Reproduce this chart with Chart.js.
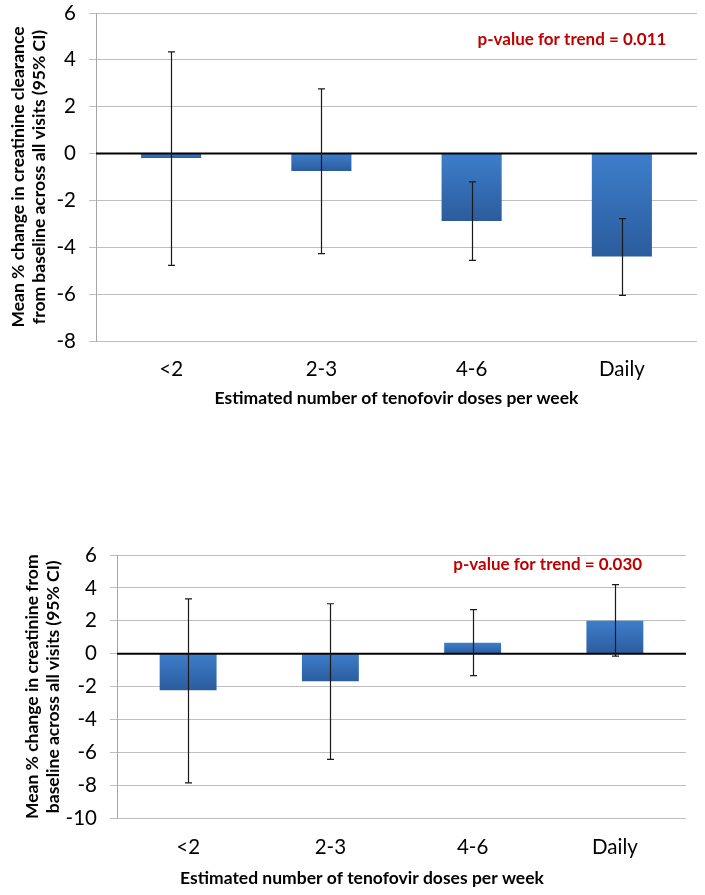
<!DOCTYPE html>
<html><head><meta charset="utf-8">
<script src="https://cdn.jsdelivr.net/npm/chart.js@4/dist/chart.umd.min.js"></script>
<style>
html,body{margin:0;padding:0;background:#fff;}
#wrap{position:relative;width:705px;height:895px;overflow:hidden;}
#c1box{position:absolute;left:0;top:0;width:705px;height:420px;}
#c2box{position:absolute;left:0;top:500px;width:705px;height:395px;}
</style></head><body>
<div id="wrap"><div id="c1box"><canvas id="c1"></canvas></div><div id="c2box"><canvas id="c2"></canvas></div></div>
<script>
// ---- data ----
const categories = ['<2', '2-3', '4-6', 'Daily'];
const clearanceMean  = [-0.19, -0.74, -2.88, -4.39];
const clearanceLower = [-4.77, -4.27, -4.56, -6.05];
const clearanceUpper = [4.34, 2.76, -1.21, -2.78];
const creatinineMean  = [-2.22, -1.66, 0.67, 2.01];
const creatinineLower = [-7.84, -6.41, -1.32, -0.14];
const creatinineUpper = [3.33, 3.04, 2.68, 4.20];
const yTicksTop = [6, 4, 2, 0, -2, -4, -6, -8];
const yTicksBottom = [6, 4, 2, 0, -2, -4, -6, -8, -10];
const xTitle = 'Estimated number of tenofovir doses per week';
const yTitleTop = ['Mean % change in creatinine clearance', 'from baseline across all visits (95% CI)'];
const yTitleBottom = ['Mean % change in creatinine from', 'baseline across all visits (95% CI)'];
const pTextTop = 'p-value for trend = 0.011';
const pTextBottom = 'p-value for trend = 0.030';

const FONT = 'Lato, "Open Sans", sans-serif';
Chart.defaults.font.family = FONT;
Chart.defaults.color = '#000';
Chart.defaults.animation = false;

const GRID = '#BFBFBF';
const AXIS = '#A6A6A6';
const TICK_SIZE = 20.5;
const TITLE_SIZE = 17.5;

function barFill(c) {
  const chart = c.chart;
  const ys = chart.scales.y;
  if (!ys || !chart.chartArea) return '#3671B8';
  const v = c.raw;
  const p0 = ys.getPixelForValue(0), p1 = ys.getPixelForValue(v);
  const t = Math.min(p0, p1), b = Math.max(p0, p1);
  if (!isFinite(t) || b - t < 1) return '#3671B8';
  const g = chart.ctx.createLinearGradient(0, t, 0, b);
  g.addColorStop(0, '#3E7ECB');
  g.addColorStop(1, '#2B5C9D');
  return g;
}

const overlay = {
  id: 'overlay',
  afterDatasetsDraw(chart, args, o) {
    const ctx = chart.ctx, ys = chart.scales.y, area = chart.chartArea;
    ctx.save();
    // zero line
    const z = ys.getPixelForValue(0);
    ctx.strokeStyle = '#000'; ctx.lineWidth = 2;
    ctx.beginPath(); ctx.moveTo(area.left, z); ctx.lineTo(area.right, z); ctx.stroke();
    // error bars
    const meta = chart.getDatasetMeta(0);
    ctx.strokeStyle = '#1a1a1a'; ctx.lineWidth = 1.2;
    meta.data.forEach((el, i) => {
      const x = Math.round(el.x) + 0.5;
      const yl = ys.getPixelForValue(o.lower[i]), yu = ys.getPixelForValue(o.upper[i]);
      ctx.beginPath();
      ctx.moveTo(x, yu); ctx.lineTo(x, yl);
      ctx.moveTo(x - 3.5, yu); ctx.lineTo(x + 3.5, yu);
      ctx.moveTo(x - 3.5, yl); ctx.lineTo(x + 3.5, yl);
      ctx.stroke();
    });
    // p-value annotation
    ctx.fillStyle = '#C00000';
    ctx.font = 'bold ' + o.pSize + 'px ' + FONT;
    ctx.textAlign = 'center'; ctx.textBaseline = 'middle';
    ctx.fillText(o.pText, area.left + o.pX * (area.right - area.left), ys.getPixelForValue(o.pY));
    // optional free-positioned x title
    if (o.xTitleFree) {
      ctx.fillStyle = '#000';
      ctx.font = 'bold ' + o.xTitleSize + 'px ' + FONT;
      ctx.fillText(o.xTitleFree, o.xTitleX, o.xTitleY);
    }
    ctx.restore();
  }
};

function build(id, mean, lower, upper, ticks, yTitle, cfg) {
  return new Chart(document.getElementById(id), {
    type: 'bar',
    data: { labels: categories, datasets: [{ data: mean, backgroundColor: barFill, borderWidth: 0, barPercentage: 0.4, categoryPercentage: 1.0 }] },
    options: {
      responsive: true, maintainAspectRatio: false,
      layout: { padding: cfg.padding },
      plugins: {
        legend: { display: false }, tooltip: { enabled: false },
        overlay: { lower, upper, pText: cfg.pText, pX: cfg.pX, pY: cfg.pY, pSize: 17,
          xTitleFree: cfg.freeTitle ? xTitle : null, xTitleSize: TITLE_SIZE, xTitleX: cfg.freeX, xTitleY: cfg.freeY }
      },
      scales: {
        x: {
          grid: { display: false }, border: { display: false },
          ticks: { font: { size: TICK_SIZE }, padding: 8.5, color: '#000' },
          title: { display: !cfg.freeTitle, text: xTitle, font: { size: TITLE_SIZE, weight: 'bold' }, padding: 0, color: '#000' },
          afterFit(s) { s.height = cfg.xHeight; s.paddingLeft = 0; s.paddingRight = 0; }
        },
        y: {
          min: ticks[ticks.length - 1], max: ticks[0],
          afterBuildTicks(s) { s.ticks = ticks.map(v => ({ value: v })); },
          grid: { color: GRID, lineWidth: 1, tickLength: 7, drawTicks: true },
          border: { display: true, color: AXIS, width: 1 },
          ticks: { font: { size: TICK_SIZE }, padding: 13, color: '#000' },
          title: { display: true, text: yTitle, font: { size: TITLE_SIZE, weight: 'bold', lineHeight: 1.23 }, padding: 0.5, color: '#000' },
          afterFit(s) { s.width = cfg.yWidth; s.paddingTop = 0; s.paddingBottom = 0; }
        }
      }
    },
    plugins: [overlay]
  });
}

build('c1', clearanceMean, clearanceLower, clearanceUpper, yTicksTop, yTitleTop, {
  padding: { left: 7, top: 13, right: 8, bottom: 11 }, yWidth: 89, xHeight: 68,
  pText: pTextTop, pX: 0.792, pY: 4.88, freeTitle: false
});
build('c2', creatinineMean, creatinineLower, creatinineUpper, yTicksBottom, yTitleBottom, {
  padding: { left: 21, top: 55, right: 19, bottom: 6 }, yWidth: 96, xHeight: 70.5,
  pText: pTextBottom, pX: 0.757, pY: 5.41, freeTitle: true, freeX: 362, freeY: 378
});
</script>
</body></html>
